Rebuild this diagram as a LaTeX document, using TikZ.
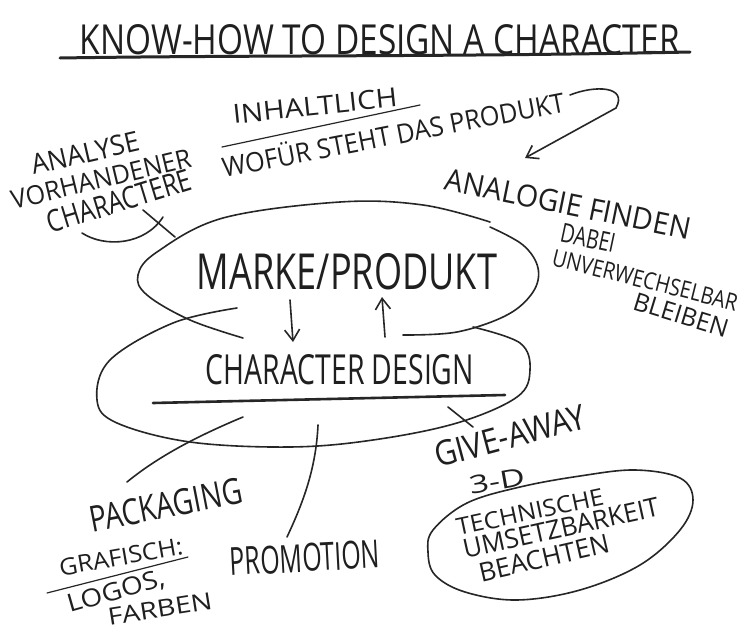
\documentclass[tikz,border=0pt]{standalone}
\usepackage{fontspec}
\setmainfont{Open Sans}
\usepackage{graphicx}
\usetikzlibrary{arrows.meta}
\newcommand\hw[3]{\resizebox{#1pt}{#2pt}{#3}}
\begin{document}
\begin{tikzpicture}[x=1pt,y=-1pt,
  ink/.style={line width=1.6pt, line cap=round, line join=round, draw=black!85},
  thick ink/.style={line width=3pt, line cap=round, draw=black!85},
  lbl/.style={inner sep=0pt, text=black!88},
  barb/.style={-{Straight Barb[length=11pt,width=15pt,line width=1.6pt]}}]
\useasboundingbox (0,0) rectangle (742,629);
\fill[white] (0,0) rectangle (742,629);
% title
\node[lbl] (title) at (380,40) {\hw{600}{30}{KNOW-HOW TO DESIGN A CHARACTER}};
\draw[thick ink] (60,58) .. controls (250,55) and (450,57) .. (690,52);
% top texts
\node[lbl, rotate=6] (inhalt) at (315,106) {\hw{165}{19}{INHALTLICH}};
\draw[ink, line width=1.2pt] (222,147) -- (420,105);
\node[lbl, rotate=11] (wofuer) at (393,133) {\hw{348}{24}{WOFÜR STEHT DAS PRODUKT}};
\draw[ink, barb] (570,95) .. controls (595,85) and (628,86) .. (616,108) -- (525,158);
\node[lbl, rotate=-11.5] (analogie) at (568,204) {\hw{250}{22}{ANALOGIE FINDEN}};
\node[lbl, rotate=-12] (dabei) at (588,238) {\hw{55}{19}{DABEI}};
\node[lbl, rotate=-14] (unverw) at (645,280) {\hw{190}{17}{UNVERWECHSELBAR}};
\node[lbl, rotate=-17] (bleiben) at (681,315) {\hw{98}{18}{BLEIBEN}};
% left top
\node[lbl, rotate=13] (analyse) at (85,153) {\hw{110}{20}{ANALYSE}};
\node[lbl, rotate=13.5] (vorh) at (101,179) {\hw{184}{19}{VORHANDENER}};
\node[lbl, rotate=17] (charac) at (119,201) {\hw{150}{22}{CHARACTERE}};
\draw[ink] (82,233) .. controls (105,248) and (145,245) .. (163,217);
\draw[ink] (143,210) -- (175,237);
% upper ellipse
\draw[ink] plot[smooth, tension=0.6] coordinates {(243,338) (190,320) (147,295) (138,275) (157,252) (223,218) (340,202) (423,205) (490,222)};
\draw[ink] plot[smooth, tension=0.6] coordinates {(490,227) (523,245) (538,268) (533,292) (507,315) (457,332) (403,335)};
\node[lbl] (marke) at (347,272) {\hw{300}{36}{MARKE/PRODUKT}};
% lower ellipse
\draw[ink] plot[smooth, tension=0.6] coordinates {(237,308) (173,323) (110,360) (97,400) (117,423) (190,442) (290,447) (373,440) (457,423) (517,397) (530,370) (520,343) (473,327)};
\node[lbl] (chardes) at (340,370) {\hw{268}{30}{CHARACTER DESIGN}};
\draw[thick ink, line width=2.6pt] (153,403) -- (505,395);
% arrows between
\draw[ink, barb] (290,300) -- (293,342);
\draw[ink, barb] (385,337) -- (382,297);
% bottom right
\draw[ink] (448,407) -- (473,427);
\node[lbl, rotate=15] (give) at (510,436) {\hw{155}{25}{GIVE-AWAY}};
\node[lbl, rotate=10] (dreid) at (497,481) {\hw{56}{18}{3-D}};
\draw[ink] plot[smooth cycle, tension=0.6] coordinates {(428,552) (433,530) (467,503) (520,487) (580,476) (635,470) (680,478) (693,500) (680,530) (640,565) (580,590) (517,600) (465,592) (435,575)};
\node[lbl, rotate=12] (tech) at (530,512) {\hw{150}{17}{TECHNISCHE}};
\node[lbl, rotate=12.5] (umsetz) at (561,528) {\hw{200}{19}{UMSETZBARKEIT}};
\node[lbl, rotate=13] (beacht) at (544,558) {\hw{133}{19}{BEACHTEN}};
% bottom left
\draw[ink] (243,417) .. controls (200,435) and (160,455) .. (127,482);
\node[lbl, rotate=11] (pack) at (166,505) {\hw{155}{26}{PACKAGING}};
\draw[ink] (318,425) .. controls (316,470) and (302,505) .. (287,537);
\node[lbl, rotate=3] (promo) at (305,558) {\hw{150}{28}{PROMOTION}};
\node[lbl, rotate=10] (grafisch) at (121,557) {\hw{125}{17}{GRAFISCH:}};
\draw[ink, line width=1.2pt] (47,593) -- (188,557);
\node[lbl, rotate=16] (logos) at (116,592) {\hw{100}{18}{LOGOS,}};
\node[lbl, rotate=9] (farben) at (160,609) {\hw{105}{17}{FARBEN}};
\end{tikzpicture}
\end{document}
